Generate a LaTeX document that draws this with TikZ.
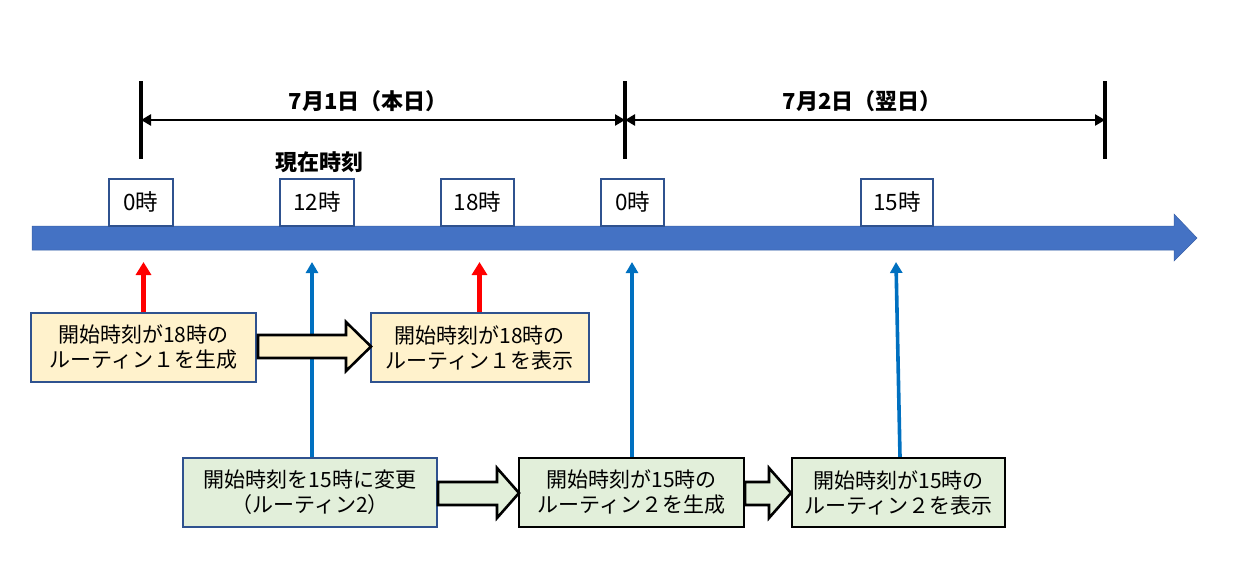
\documentclass[tikz,border=0pt]{standalone}
\usepackage{fontspec}
\setmainfont{Noto Sans CJK JP}
\usetikzlibrary{arrows.meta}
\definecolor{barblue}{HTML}{4472C4}
\definecolor{edgeblue}{HTML}{2F528F}
\definecolor{lineblue}{HTML}{0070C0}
\definecolor{yelfill}{HTML}{FFF2CC}
\definecolor{grnfill}{HTML}{E2EFDA}
\definecolor{arrred}{HTML}{FF0000}
\tikzset{
  txt/.style={font=\fontsize{21}{25}\selectfont},
  boldlbl/.style={font=\fontsize{22}{26}\selectfont\bfseries, inner sep=0pt},
  timebox/.style={font=\fontsize{22.5}{26}\selectfont, draw=edgeblue, line width=2pt, fill=white, minimum height=47pt, inner sep=0pt},
  yelbox/.style={txt, draw=edgeblue, line width=2pt, fill=yelfill, minimum height=69pt, inner sep=0pt, align=center},
  grnbox/.style={txt, draw=edgeblue, line width=2pt, fill=grnfill, minimum height=69pt, inner sep=0pt, align=center},
  grnboxk/.style={grnbox, draw=black, line width=2.4pt},
  redarrow/.style={draw=arrred, line width=4.5pt, -{Triangle[length=13pt,width=15pt]}},
  bluearrow/.style={draw=lineblue, line width=3.6pt, -{Triangle[length=11pt,width=12pt]}},
  dimline/.style={draw=black, line width=3.5pt},
  dimarrow/.style={draw=black, line width=2.8pt, {Triangle[length=10pt,width=11pt]}-{Triangle[length=10pt,width=11pt]}},
  blockarrow/.style={draw=black, line width=2.6pt, line join=miter},
}
\begin{document}
\begin{tikzpicture}[x=1pt,y=-1pt]
\useasboundingbox (0,0) rectangle (1234,581);

% timeline bar
\fill[barblue, draw=barblue!85!black, line width=0.5pt]
  (32,226) -- (1174,226) -- (1174,214) -- (1197,238) -- (1174,261) -- (1174,250) -- (32,250) -- cycle;

% dimension lines
\coordinate (d1t) at (141,81);  \coordinate (d1b) at (141,159);
\coordinate (d2t) at (625,81);  \coordinate (d2b) at (625,159);
\coordinate (d3t) at (1105,81); \coordinate (d3b) at (1105,159);
\draw[dimline] (d1t) -- (d1b);
\draw[dimline] (d2t) -- (d2b);
\draw[dimline] (d3t) -- (d3b);
\coordinate (a1) at (141,120);
\coordinate (a2) at (625,120);
\coordinate (a3) at (1105,120);
\draw[dimarrow] (a1) -- (a2);
\draw[dimarrow] (a2) -- (a3);
\node[boldlbl] (day1) at (368,101) {7月1日（本日）};
\node[boldlbl] (day2) at (862,101) {7月2日（翌日）};
\node[boldlbl] (now) at (319,162) {現在時刻};

% time boxes
\node[timebox, minimum width=64pt] (h0) at (140.5,202) {0時};
\node[timebox, minimum width=74pt] (h12) at (317,202) {12時};
\node[timebox, minimum width=73pt] (h18) at (477.5,202) {18時};
\node[timebox, minimum width=63pt] (h0b) at (632.5,202) {0時};
\node[timebox, minimum width=72pt] (h15) at (897,202) {15時};

% yellow boxes
\node[yelbox, minimum width=225pt] (y1) at (143.5,347.5) {開始時刻が18時の\\ルーティン１を生成};
\node[yelbox, minimum width=218pt] (y2) at (479.5,347.5) {開始時刻が18時の\\ルーティン１を表示};

% green boxes
\node[grnbox, minimum width=254pt] (g1) at (310,492.5) {開始時刻を15時に変更\\（ルーティン2）};
\node[grnboxk, minimum width=225pt] (g2) at (631.5,492.5) {開始時刻が15時の\\ルーティン２を生成};
\node[grnboxk, minimum width=213pt] (g3) at (898.5,492.5) {開始時刻が15時の\\ルーティン２を表示};

% arrow tips at the timeline
\coordinate (r1) at (143.5,262);
\coordinate (r2) at (479.5,262);
\coordinate (b1) at (312,262);
\coordinate (b2) at (632,262);
\coordinate (b3) at (896,262);
\draw[redarrow] (y1.north) -- (r1);
\draw[redarrow] (y2.north) -- (r2);
\draw[bluearrow] ([xshift=2pt]g1.north) -- (b1);
\draw[bluearrow] ([xshift=0.5pt]g2.north) -- (b2);
\draw[bluearrow] ([xshift=1.5pt]g3.north) -- (b3);

% block arrows
\draw[blockarrow, fill=yelfill]
  (258,335) -- (346,335) -- (346,322) -- (371,346.5) -- (346,371) -- (346,358) -- (258,358) -- cycle;
\draw[blockarrow, fill=grnfill]
  (438,482) -- (497,482) -- (497,468) -- (519,493) -- (497,518) -- (497,505) -- (438,505) -- cycle;
\draw[blockarrow, fill=grnfill]
  (745,482) -- (769,482) -- (769,468) -- (791,493) -- (769,518) -- (769,505) -- (745,505) -- cycle;
\end{tikzpicture}
\end{document}
